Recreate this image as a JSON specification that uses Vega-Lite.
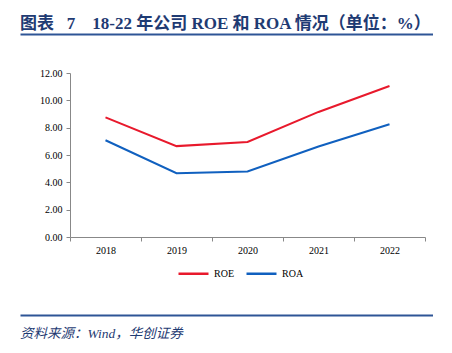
{
  "$schema": "https://vega.github.io/schema/vega-lite/v6.json",
  "padding": {"left": 20, "top": 15, "right": 0, "bottom": 0},
  "spacing": 0,
  "background": "white",
  "resolve": {"legend": {"color": "independent"}},
  "config": {"view": {"stroke": null}, "font": "Liberation Serif"},
  "vconcat": [
    {
      "width": 413,
      "height": 34,
      "title": {"text": "图表\u00a0\u00a0\u00a07\u00a0\u00a0\u00a0\u00a018-22 年公司 ROE 和 ROA 情况（单位：%）", "anchor": "start", "frame": "group", "font": "Liberation Serif, Noto Sans CJK SC", "fontSize": 17, "fontWeight": "bold", "color": "#1F3B73", "offset": 1},
      "data": {"values": [{"t": ""}]},
      "mark": {"type": "text"},
      "encoding": {
        "text": {"field": "t"},
        "x": {"datum": 0, "type": "quantitative", "scale": {"domain": [0, 1]}, "axis": {"orient": "top", "title": null, "labels": false, "ticks": false, "grid": false, "domainColor": "#2E5596", "domainWidth": 2}}
      }
    },
    {
      "spacing": 0,
      "resolve": {"legend": {"color": "independent"}},
      "hconcat": [
        {
          "width": 19,
          "height": 164,
          "data": {"values": [{"t": ""}]},
          "mark": {"type": "text"},
          "encoding": {"text": {"field": "t"}}
        },
        {
          "width": 355,
          "height": 164,
          "data": {"values": [
            {"year": "2018", "series": "ROE", "value": 8.75},
            {"year": "2019", "series": "ROE", "value": 6.65},
            {"year": "2020", "series": "ROE", "value": 6.95},
            {"year": "2021", "series": "ROE", "value": 9.15},
            {"year": "2022", "series": "ROE", "value": 11.05},
            {"year": "2018", "series": "ROA", "value": 7.08},
            {"year": "2019", "series": "ROA", "value": 4.67},
            {"year": "2020", "series": "ROA", "value": 4.80},
            {"year": "2021", "series": "ROA", "value": 6.62},
            {"year": "2022", "series": "ROA", "value": 8.25}
          ]},
          "mark": {"type": "line", "strokeWidth": 2},
          "encoding": {
            "x": {"field": "year", "type": "ordinal", "bandPosition": 0.5, "scale": {"type": "band", "paddingInner": 0, "paddingOuter": 0},
              "axis": {"title": null, "labelAngle": 0, "tickBand": "extent", "domainColor": "#888888", "tickColor": "#888888", "tickSize": 4, "labelFont": "Liberation Serif", "labelFontSize": 10, "labelColor": "#000000", "labelPadding": 4, "grid": false}},
            "y": {"field": "value", "type": "quantitative", "scale": {"domain": [0, 12], "nice": false},
              "axis": {"title": null, "values": [0, 2, 4, 6, 8, 10, 12], "format": ".2f", "grid": false, "domainColor": "#888888", "tickColor": "#888888", "tickSize": 4, "labelFont": "Liberation Serif", "labelFontSize": 10, "labelColor": "#000000", "labelPadding": 4}},
            "color": {"field": "series", "type": "nominal", "sort": ["ROE", "ROA"], "scale": {"domain": ["ROE", "ROA"], "range": ["#E8192C", "#1060BF"]},
              "legend": {"title": null, "orient": "none", "legendX": 107, "legendY": 184, "direction": "horizontal", "symbolType": "stroke", "symbolSize": 900, "symbolStrokeWidth": 2.5, "labelFont": "Liberation Serif", "labelFontSize": 10, "labelColor": "#000000", "columnPadding": 7, "labelOffset": 4}}
          }
        }
      ]
    },
    {
      "width": 413,
      "height": 36,
      "title": {"text": "资料来源：Wind，华创证券", "orient": "bottom", "anchor": "start", "frame": "group", "font": "Liberation Serif, Noto Sans CJK SC", "fontSize": 13.5, "fontStyle": "italic", "fontWeight": "normal", "color": "#1F3B73", "offset": 12},
      "data": {"values": [{"t": ""}]},
      "mark": {"type": "text"},
      "encoding": {
        "text": {"field": "t"},
        "x": {"datum": 0, "type": "quantitative", "scale": {"domain": [0, 1]}, "axis": {"orient": "bottom", "title": null, "labels": false, "ticks": false, "grid": false, "domainColor": "#2E5596", "domainWidth": 2}}
      }
    }
  ]
}
